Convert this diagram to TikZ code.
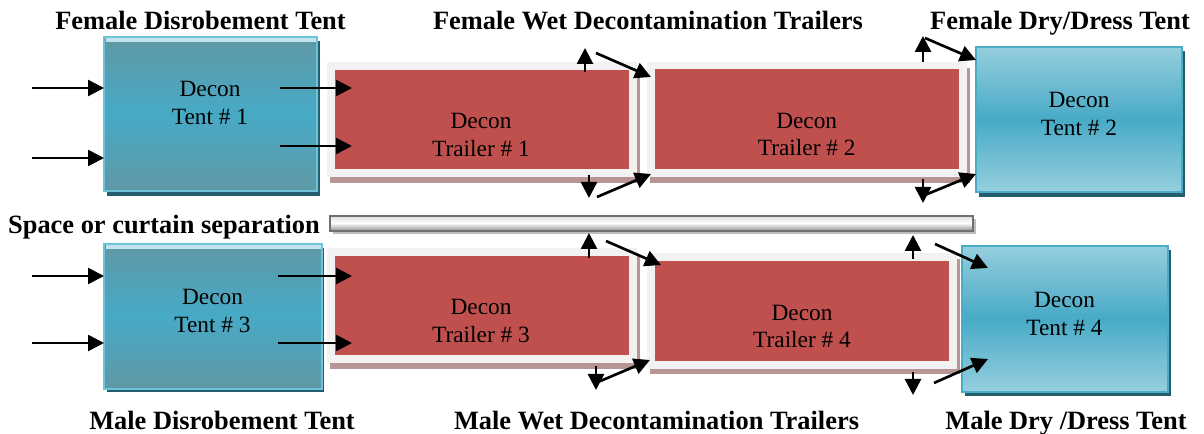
\documentclass[tikz,border=0pt]{standalone}
\usepackage{fontspec}
\setmainfont{Liberation Serif}
\usetikzlibrary{arrows.meta,fit}
\definecolor{tealgray}{HTML}{5F98A5}
\definecolor{tealmid}{HTML}{47AAC6}
\definecolor{teallight}{HTML}{96CEDE}
\definecolor{tealborderA}{HTML}{6CC3DA}
\definecolor{tealborderB}{HTML}{4BACC6}
\definecolor{tealshadow}{HTML}{225E6D}
\definecolor{tealhi}{HTML}{C2E3EB}
\definecolor{trailred}{HTML}{C0504D}
\definecolor{trailframe}{HTML}{F2F2F2}
\definecolor{trailshadow}{HTML}{B89595}
\definecolor{bargray}{HTML}{6F6F6F}
\definecolor{barshadow}{HTML}{BDBDBD}
\definecolor{bartop}{HTML}{DADADA}
\definecolor{barbot}{HTML}{999999}
% vertical three-colour gradient made of thin strips
\newcommand\vgrad[7]{%
  \foreach \vgK in {0,...,59}{%
    \pgfmathsetmacro\vgA{#2+(#4-#2)*\vgK/60}%
    \pgfmathsetmacro\vgB{min(#2+(#4-#2)*(\vgK+1.4)/60,#4)}%
    \pgfmathsetmacro\vgT{(\vgK+0.5)/60}%
    \ifdim\vgT pt<0.5pt
      \pgfmathtruncatemacro\vgP{200*\vgT}%
      \colorlet{vgc}{#6!\vgP!#5}%
    \else
      \pgfmathtruncatemacro\vgP{200*(1-\vgT)}%
      \colorlet{vgc}{#6!\vgP!#7}%
    \fi
    \fill[vgc] (#1,\vgA) rectangle (#3,\vgB);
  }%
}
\begin{document}
\begin{tikzpicture}[x=0.75pt,y=-0.75pt,
  boxfit/.style={inner sep=0pt, outer sep=0pt},
  tentA/.style={boxfit, draw=tealborderA, line width=1.5pt},
  tentB/.style={boxfit, draw=tealborderB, line width=1.5pt},
  trframe/.style={boxfit, fill=trailframe},
  trinner/.style={boxfit, fill=trailred},
  curtain/.style={boxfit, draw=bargray, line width=1.5pt},
  boxtext/.style={anchor=base, inner sep=0pt, font=\fontsize{17.5}{21}\selectfont},
  title/.style={anchor=base, inner sep=0pt, font=\bfseries\fontsize{19.8}{24}\selectfont},
  arr/.style={line width=2pt, -{Triangle[length=12pt,width=12pt]}}
]
\useasboundingbox (0,0) rectangle (1204,434);

% Tent shadows and gradients
\fill[tealshadow] (107,41) rectangle (320,196);
\vgrad{104}{37}{317}{191}{tealgray}{tealmid}{tealgray}
\fill[tealhi] (105.5,38.5) rectangle (315.5,42);
\node[tentA, fit={(104,37) (317,191)}] (tent1) {};

\fill[tealshadow] (979,51) rectangle (1185,197);
\vgrad{976}{47}{1182}{192}{teallight}{tealmid}{teallight}
\node[tentB, fit={(976,47) (1182,192)}] (tent2) {};

\fill[tealshadow] (107,248) rectangle (324,392);
\vgrad{104}{244}{322}{389}{tealgray}{tealmid}{tealgray}
\fill[tealhi] (105.5,245.5) rectangle (320.5,249);
\node[tentA, fit={(104,244) (322,389)}] (tent3) {};

\fill[tealshadow] (965,250) rectangle (1171,396);
\vgrad{962}{246}{1168}{392}{teallight}{tealmid}{teallight}
\node[tentB, fit={(962,246) (1168,392)}] (tent4) {};

% Trailers
\fill[trailshadow] (330,68) rectangle (640,183);
\node[trframe, fit={(327,62) (637,177)}] (tr1f) {};
\node[trinner, fit={(335,70) (629,169)}] (tr1) {};
\fill[trailshadow] (650,68) rectangle (970,183);
\node[trframe, fit={(647,62) (967,177)}] (tr2f) {};
\node[trinner, fit={(655,69.5) (959,169.5)}] (tr2) {};
\fill[trailshadow] (330,254) rectangle (640,369);
\node[trframe, fit={(327,248) (637,363)}] (tr3f) {};
\node[trinner, fit={(335,256) (629,355)}] (tr3) {};
\fill[trailshadow] (650,259) rectangle (960,374);
\node[trframe, fit={(647,253) (957,369)}] (tr4f) {};
\node[trinner, fit={(655,261) (949,361)}] (tr4) {};

% Curtain
\fill[barshadow] (333,219) rectangle (976,234.5);
\vgrad{330}{216}{973}{231}{bartop}{white}{barbot}
\node[curtain, fit={(330,216) (973,231)}] (bar) {};

% Box texts
\node[boxtext] (t1a) at (210,96.7) {Decon};
\node[boxtext] (t1b) at (210,125) {Tent \# 1};
\node[boxtext] (t2a) at (1079,107.7) {Decon};
\node[boxtext] (t2b) at (1079,136) {Tent \# 2};
\node[boxtext] (t3a) at (212.5,305) {Decon};
\node[boxtext] (t3b) at (212.5,332.7) {Tent \# 3};
\node[boxtext] (t4a) at (1064.5,307.7) {Decon};
\node[boxtext] (t4b) at (1064.5,336) {Tent \# 4};
\node[boxtext] (r1a) at (481,128.3) {Decon};
\node[boxtext] (r1b) at (481,156.7) {Trailer \# 1};
\node[boxtext] (r2a) at (806.7,129) {Decon};
\node[boxtext] (r2b) at (806.7,155.7) {Trailer \# 2};
\node[boxtext] (r3a) at (481,315) {Decon};
\node[boxtext] (r3b) at (481,342.3) {Trailer \# 3};
\node[boxtext] (r4a) at (802,320.7) {Decon};
\node[boxtext] (r4b) at (802,347.3) {Trailer \# 4};

% Titles
\node[title] (ft1) at (200.5,30) {Female Disrobement Tent};
\node[title] (ft2) at (648,30) {Female Wet Decontamination Trailers};
\node[title] (ft3) at (1060,30) {Female Dry/Dress Tent};
\node[title] (sep) at (164,234) {Space or curtain separation};
\node[title] (mt1) at (222,430) {Male Disrobement Tent};
\node[title] (mt2) at (656.5,430) {Male Wet Decontamination Trailers};
\node[title] (mt3) at (1066,430) {Male Dry /Dress Tent};

% Arrows
\foreach \i/\xa/\ya/\xb/\yb in {
  1/32/88/104/88, 2/32/158/104/158, 3/280/88/352/88, 4/280/146/352/146,
  5/585/72/585/48, 6/596/53/651/77, 7/589/175/589/198, 8/597/197/651/174,
  9/923/62/923/36, 10/925/38/976/60, 11/923/179/923/203, 12/925/195/976/174,
  13/32/276/104/276, 14/32/343/104/343, 15/278/276/352/276, 16/278/343/352/343,
  17/589/258/589/233, 18/606/241/661/265, 19/596/366/596/390, 20/598/382/650/360,
  21/913/259/913/235, 22/935/244/988/268, 23/913/372/913/395, 24/934/383/988/359}{
  \coordinate (s\i) at (\xa,\ya);
  \coordinate (e\i) at (\xb,\yb);
  \draw[arr] (s\i) -- (e\i);
}
\end{tikzpicture}
\end{document}
